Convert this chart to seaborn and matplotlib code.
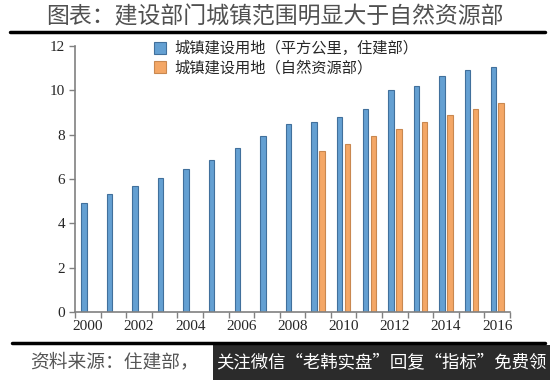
import matplotlib
matplotlib.use("Agg")
import matplotlib.pyplot as plt
import numpy as np
import pandas as pd
import seaborn as sns
from matplotlib.patches import Rectangle
from matplotlib.lines import Line2D

years = [str(y) for y in range(2000, 2017)]
mohurd = [4.92, 5.31, 5.67, 6.06, 6.44, 6.87, 7.38, 7.94, 8.47,
          8.56, 8.78, 9.17, 10.0, 10.2, 10.66, 10.93, 11.07]
mnr = [np.nan] * 9 + [7.25, 7.58, 7.94, 8.27, 8.59, 8.89, 9.16, 9.43]
series_names = ["城镇建设用地（平方公里，住建部）", "城镇建设用地（自然资源部）"]
yticks = [0, 2, 4, 6, 8, 10, 12]
title = "图表：建设部门城镇范围明显大于自然资源部"
source = "资料来源：住建部，"
watermark = "关注微信“老韩实盘”回复“指标”免费领"

df = pd.DataFrame({
    "year": years * 2,
    "value": mohurd + mnr,
    "series": [series_names[0]] * len(years) + [series_names[1]] * len(years),
})

sns.set_style("ticks")
plt.rcParams["font.family"] = ["Noto Sans CJK SC", "DejaVu Sans"]

fig = plt.figure(figsize=(5.5, 3.8), dpi=100)
ax = fig.add_axes([75 / 550, 1 - 312 / 380, (510 - 75) / 550, (312 - 46) / 380])

colors = ["#64a0d2", "#f4a766"]
edges = ["#41709c", "#c98850"]
sns.barplot(data=df, x="year", y="value", hue="series", order=years,
            hue_order=series_names, palette=colors, width=0.62, gap=0.32,
            ax=ax, legend=False, saturation=1)
n = len(years)
for i, p in enumerate(ax.patches):
    p.set_edgecolor(edges[0] if i < n else edges[1])
    p.set_linewidth(0.8)

ax.set_xlim(-0.5, len(years) - 0.5)
ax.set_ylim(0, 12)
ax.set_yticks(yticks)
ax.set_yticklabels([str(v) for v in yticks], family="Liberation Serif", fontsize=11)
ax.set_xticks(range(0, len(years), 2))
ax.set_xticklabels(years[::2], family="Liberation Serif", fontsize=11)
ax.set_xticks(np.arange(-0.5, len(years), 1), minor=True)
ax.tick_params(axis="x", which="major", length=0, pad=6)
ax.tick_params(axis="x", which="minor", length=4, color="#808080", width=1)
ax.tick_params(axis="y", length=4, color="#808080", width=1, pad=3)
ax.set_xlabel("")
ax.set_ylabel("")
sns.despine(ax=ax)
for s in ["left", "bottom"]:
    ax.spines[s].set_color("#808080")
    ax.spines[s].set_linewidth(1.2)

handles = [Rectangle((0, 0), 1, 1, facecolor=colors[i], edgecolor=edges[i], linewidth=0.8)
           for i in range(2)]
leg = fig.legend(handles, series_names, loc="upper left",
                 bbox_to_anchor=(148 / 550, 1 - 34 / 380), frameon=False,
                 fontsize=11, handlelength=0.8, handleheight=0.8,
                 handletextpad=0.5, labelspacing=0.15, borderaxespad=0)

fig.text(0.5, 1 - 17 / 380, title, ha="center", va="center", fontsize=16.5,
         color="#505050")
fig.add_artist(Line2D([10 / 550, 545 / 550], [1 - 32 / 380] * 2, color="black", lw=2.5))
fig.add_artist(Line2D([12 / 550, 545 / 550], [1 - 343 / 380] * 2, color="black", lw=2.5))

fig.text(30 / 550, 1 - 362 / 380, source, ha="left", va="center", fontsize=13.5,
         color="#555555", style="italic")
fig.add_artist(Rectangle((213 / 550, 0), 337 / 550, 35 / 380, transform=fig.transFigure,
                         facecolor="#2b2b2b", edgecolor="none"))
fig.text(381 / 550, 1 - 362 / 380, watermark, ha="center", va="center", fontsize=12.5,
         color="white")

fig.savefig("out.png", dpi=100, facecolor="white")
